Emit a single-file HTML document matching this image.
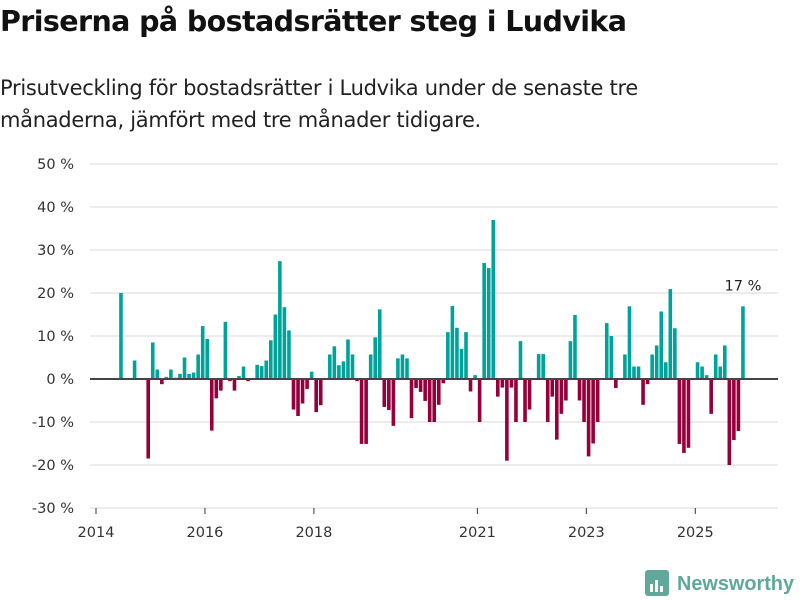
<!DOCTYPE html>
<html><head><meta charset="utf-8">
<style>
body{margin:0;width:800px;height:600px;background:#fff;font-family:"Liberation Sans","DejaVu Sans",sans-serif;overflow:hidden;position:relative}
#title{position:absolute;left:0;top:5px;font-size:28.5px;font-weight:bold;color:#111;font-family:"DejaVu Sans",sans-serif;letter-spacing:-0.6px}
#sub{position:absolute;left:0;top:72px;font-size:21px;line-height:32px;color:#222;font-family:"DejaVu Sans",sans-serif;width:720px;letter-spacing:-0.3px}
svg{position:absolute;left:0;top:0}
</style></head><body>
<div id="title">Priserna på bostadsrätter steg i Ludvika</div>
<div id="sub">Prisutveckling för bostadsrätter i Ludvika under de senaste tre<br>månaderna, jämfört med tre månader tidigare.</div>
<svg id="chart" width="800" height="600"></svg>
<script>
const startYear = 2014;
const values = [null,null,null,null,null,20,null,null,4.3,null,null,-18.5,8.5,2.2,-1.2,0.5,2.2,0.3,1.2,5,1.2,1.5,5.7,12.3,9.3,-12,-4.5,-2.7,13.3,-0.5,-2.7,0.7,2.9,-0.5,null,3.3,3,4.3,9,15,27.4,16.7,11.3,-7.1,-8.6,-5.7,-2.3,1.7,-7.7,-6.1,null,5.7,7.6,3.2,4.1,9.2,5.7,-0.5,-15.1,-15.1,5.7,9.7,16.2,-6.5,-7.2,-10.9,4.8,5.7,4.8,-9.1,-2.1,-3.0,-5.1,-10,-10,-6,-1,10.9,17,11.9,7,10.9,-2.9,0.9,-10,27,25.8,37,-4.1,-2,-19,-2,-10,8.8,-10,-7.1,null,5.8,5.8,-10,-4.1,-14.1,-8.1,-5,8.8,14.9,-5,-10,-18,-15,-10,null,13,10,-2.1,null,5.7,16.9,2.9,2.9,-6,-1.2,5.7,7.8,15.7,3.9,20.9,11.8,-15.1,-17.2,-16,null,3.9,2.9,0.9,-8.1,5.7,2.9,7.8,-20,-14.2,-12.1,16.9];
const yTicks = [50,40,30,20,10,0,-10,-20,-30];
const xTickYears = [2014,2016,2018,2021,2023,2025];
const lastLabel = "17 %";

const NS="http://www.w3.org/2000/svg";
const svg=document.getElementById('chart');
const X0=96, MONTH=4.54, left=90, right=778;
const y=v=>379-v*4.3;
const xm=m=>X0+(m+0.5)*MONTH;
const xy=yr=>X0+(yr-startYear)*12*MONTH;
function el(t,a,txt){const e=document.createElementNS(NS,t);for(const k in a)e.setAttribute(k,a[k]);if(txt!=null)e.textContent=txt;svg.appendChild(e);return e;}
yTicks.forEach(t=>{
  const g=el('line',{x1:left,x2:right,y1:y(t),y2:y(t),stroke:'#e0e0e0','stroke-width':1.2});
  
  
  const l=el('text',{x:74,y:y(t)+5,'text-anchor':'end','font-size':14.5,fill:'#333','font-family':'DejaVu Sans, sans-serif'},t+' %');
  
  
});
xTickYears.forEach(yr=>{
  const tk=el('line',{x1:xy(yr),x2:xy(yr),y1:508,y2:514,stroke:'#333','stroke-width':1});
  
  
  const l=el('text',{x:xy(yr),y:537,'text-anchor':'middle','font-size':14.5,fill:'#333','font-family':'DejaVu Sans, sans-serif'},yr);
  
  
});
values.forEach((v,i)=>{
  if(v==null)return;
  const r=el('rect',{x:xm(i)-1.8,width:3.6,y:Math.min(y(v),y(0)),height:Math.abs(y(v)-y(0)),fill:v>=0?'#00a39a':'#96003a'});
  
  
});
const z=el('line',{x1:left,x2:right,y1:y(0),y2:y(0),stroke:'#444','stroke-width':2});


const li=values.length-1;
const lbl=el('text',{x:xm(li),y:y(values[li])-16,'text-anchor':'middle','font-size':14.5,fill:'#222','font-family':'DejaVu Sans, sans-serif'},lastLabel);


</script>
<svg width="800" height="600" style="pointer-events:none">
  <rect x="645" y="570" width="24" height="26" rx="3" fill="#5fa89a"/>
  <rect x="650" y="584" width="3" height="8" fill="#fff"/><rect x="655" y="580" width="3" height="12" fill="#fff"/><rect x="660" y="586" width="3" height="6" fill="#fff"/>
  <text x="677" y="590" font-size="20" font-weight="bold" fill="#5fa89a" font-family="Liberation Sans, sans-serif" textLength="117" lengthAdjust="spacingAndGlyphs">Newsworthy</text>
</svg>
</body></html>
